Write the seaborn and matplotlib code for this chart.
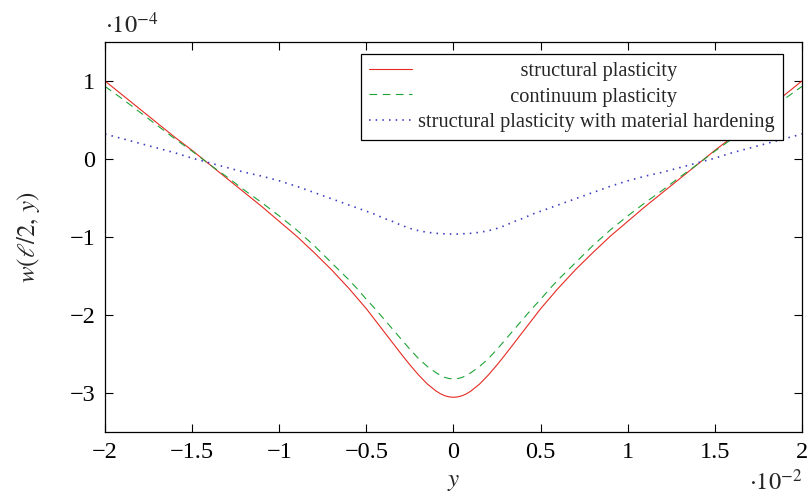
import numpy as np
import pandas as pd
import seaborn as sns
import matplotlib
matplotlib.use("Agg")
import matplotlib.pyplot as plt
from matplotlib.ticker import FixedLocator, FuncFormatter

# Transverse coordinate y (in units of 1e-2)
y_pos = [-2.0, -1.9, -1.8, -1.7, -1.6, -1.5, -1.4, -1.3, -1.2, -1.1, -1.0,
         -0.9, -0.8, -0.7, -0.6, -0.55, -0.5, -0.45, -0.4, -0.35, -0.3,
         -0.25, -0.2, -0.15, -0.1, -0.075, -0.05, -0.025, 0.0, 0.025, 0.05,
         0.075, 0.1, 0.15, 0.2, 0.25, 0.3, 0.35, 0.4, 0.45, 0.5, 0.55, 0.6,
         0.7, 0.8, 0.9, 1.0, 1.1, 1.2, 1.3, 1.4, 1.5, 1.6, 1.7, 1.8, 1.9,
         2.0]

# Deflection w(l/2, y) (in units of 1e-4)
w_structural = [1.00, 0.82, 0.64, 0.46, 0.28, 0.11, -0.07, -0.25, -0.43,
                -0.61, -0.80, -0.99, -1.20, -1.42, -1.66, -1.79, -1.92,
                -2.065, -2.21, -2.355, -2.50, -2.64, -2.77, -2.885, -2.975,
                -3.01, -3.035, -3.05, -3.055, -3.05, -3.035, -3.01, -2.975,
                -2.885, -2.77, -2.64, -2.50, -2.355, -2.21, -2.065, -1.92,
                -1.79, -1.66, -1.42, -1.20, -0.99, -0.80, -0.61, -0.43,
                -0.25, -0.07, 0.11, 0.28, 0.46, 0.64, 0.82, 1.00]

w_continuum = [0.93, 0.77, 0.60, 0.43, 0.26, 0.10, -0.07, -0.23, -0.40,
               -0.56, -0.73, -0.91, -1.11, -1.33, -1.55, -1.67, -1.80,
               -1.92, -2.05, -2.18, -2.31, -2.44, -2.56, -2.66, -2.74,
               -2.773, -2.80, -2.815, -2.82, -2.815, -2.80, -2.773, -2.74,
               -2.66, -2.56, -2.44, -2.31, -2.18, -2.05, -1.92, -1.80,
               -1.67, -1.55, -1.33, -1.11, -0.91, -0.73, -0.56, -0.40,
               -0.23, -0.07, 0.10, 0.26, 0.43, 0.60, 0.77, 0.93]

w_hardening = [0.32, 0.26, 0.20, 0.14, 0.08, 0.01, -0.05, -0.11, -0.17,
               -0.22, -0.28, -0.35, -0.43, -0.51, -0.59, -0.63, -0.67,
               -0.71, -0.76, -0.80, -0.85, -0.89, -0.92, -0.94, -0.953,
               -0.957, -0.96, -0.962, -0.962, -0.962, -0.96, -0.957, -0.953,
               -0.94, -0.92, -0.89, -0.85, -0.80, -0.76, -0.71, -0.67,
               -0.63, -0.59, -0.51, -0.43, -0.35, -0.28, -0.22, -0.17,
               -0.11, -0.05, 0.01, 0.08, 0.14, 0.20, 0.26, 0.32]

labels = ["structural plasticity",
          "continuum plasticity",
          "structural plasticity with material hardening"]
x_ticks = [-2, -1.5, -1, -0.5, 0, 0.5, 1, 1.5, 2]
y_ticks = [-3, -2, -1, 0, 1]

sns.set_theme(style="ticks")
plt.rcParams["font.family"] = ["Liberation Serif", "DejaVu Serif"]
plt.rcParams["mathtext.fontset"] = "stix"
plt.rcParams["lines.scale_dashes"] = False
plt.rcParams["axes.unicode_minus"] = True

fig = plt.figure(figsize=(8.09, 4.95), dpi=100)
ax = fig.add_axes([0.1298, 0.1273, 0.8615, 0.7879])

series = [
    (w_structural, "#e52a22", "-", 0.8),
    (w_continuum, "#1ea336", (0, (5.5, 4.0)), 0.8),
    (w_hardening, "#3c3cc0", (0, (1.1, 3.7)), 1.2),
]
for (vals, color, ls, lw), lab in zip(series, labels):
    df = pd.DataFrame({"y": y_pos, "w": vals})
    sns.lineplot(data=df, x="y", y="w", ax=ax, color=color, linestyle=ls,
                 linewidth=lw, label=lab, sort=False)

ax.set_xlim(-2, 2)
ax.set_ylim(-3.5, 1.5)
ax.xaxis.set_major_locator(FixedLocator(x_ticks))
ax.yaxis.set_major_locator(FixedLocator(y_ticks))
fmt = FuncFormatter(lambda v, p: ("%g" % v).replace("-", "\u2212"))
ax.xaxis.set_major_formatter(fmt)
ax.yaxis.set_major_formatter(fmt)
ax.tick_params(direction="in", length=6, width=0.8, top=True, right=True,
               labelsize=17.5, pad=7, colors="black")
for s in ax.spines.values():
    s.set_linewidth(0.9)
    s.set_color("black")

ax.set_xlabel(r"$y$", fontsize=18, labelpad=6)
ax.set_ylabel(r"$w(\ell/2,\,y)$", fontsize=18, labelpad=20)

# Scale factors of the axes
ax.text(0.0, 0.023, r"$\cdot 10^{-4}$", transform=ax.transAxes,
        fontsize=17.5, ha="left", va="baseline")
ax.texts[-1].set_y(1.023)
ax.text(1.0, -0.148, r"$\cdot 10^{-2}$", transform=ax.transAxes,
        fontsize=17.5, ha="right", va="baseline")

# Legend with centred entry texts
leg_fs = 14.7
fig.canvas.draw()
renderer = fig.canvas.get_renderer()
widths = []
for lab in labels:
    t = fig.text(0, 0, lab, fontsize=leg_fs)
    widths.append(t.get_window_extent(renderer).width)
    t.remove()
sp = fig.text(0, 0, "a\u2002a", fontsize=leg_fs)
sp_w = sp.get_window_extent(renderer).width
sp.remove()
aa = fig.text(0, 0, "aa", fontsize=leg_fs)
sp_w -= aa.get_window_extent(renderer).width
aa.remove()
wmax = max(widths)
padded = [("\u2002" * int(round((wmax - w) / 2 / sp_w))) + lab
          for w, lab in zip(widths, labels)]

handles, _ = ax.get_legend_handles_labels()
leg = ax.legend(handles, padded, loc="upper right",
                bbox_to_anchor=(0.973, 0.97), fontsize=leg_fs, frameon=True,
                fancybox=False, edgecolor="black", framealpha=1,
                handlelength=2.1, handletextpad=0.3, labelspacing=0.3,
                borderpad=0.4, borderaxespad=0)
leg.get_frame().set_linewidth(0.9)

fig.savefig("out.png", dpi=100)
